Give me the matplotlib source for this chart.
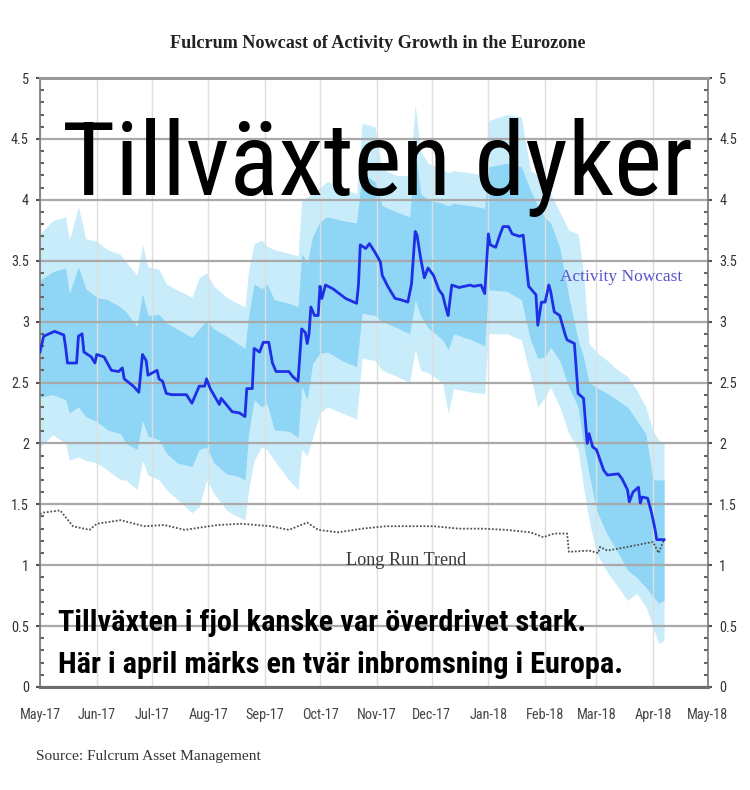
import matplotlib
matplotlib.use('Agg')
import pandas as pd
import matplotlib.pyplot as plt
import matplotlib.dates as mdates
from matplotlib import font_manager as fm
from matplotlib.ft2font import FT2Font
from matplotlib.textpath import TextToPath
from matplotlib.ticker import MultipleLocator, FuncFormatter

# ---- texts ----
title = 'Fulcrum Nowcast of Activity Growth in the Eurozone'
headline = 'Tillväxten dyker'
sub1 = 'Tillväxten i fjol kanske var överdrivet stark.'
sub2 = 'Här i april märks en tvär inbromsning i Europa.'
source = 'Source: Fulcrum Asset Management'
lbl_nowcast = 'Activity Nowcast'
lbl_trend = 'Long Run Trend'

# ---- data ----
nowcast_dates = [
    '2017-05-01', '2017-05-03', '2017-05-09', '2017-05-14', '2017-05-15', '2017-05-16',
    '2017-05-21', '2017-05-22', '2017-05-24', '2017-05-25', '2017-05-29', '2017-05-31',
    '2017-06-01', '2017-06-05', '2017-06-09', '2017-06-13', '2017-06-15', '2017-06-16',
    '2017-06-21', '2017-06-24', '2017-06-26', '2017-06-28', '2017-06-29', '2017-07-04',
    '2017-07-05', '2017-07-07', '2017-07-09', '2017-07-12', '2017-07-20', '2017-07-23',
    '2017-07-27', '2017-07-30', '2017-07-31', '2017-08-02', '2017-08-07', '2017-08-08',
    '2017-08-14', '2017-08-18', '2017-08-21', '2017-08-22', '2017-08-25', '2017-08-26',
    '2017-08-29', '2017-08-31', '2017-09-03', '2017-09-05', '2017-09-07', '2017-09-14',
    '2017-09-16', '2017-09-19', '2017-09-21', '2017-09-23', '2017-09-24', '2017-09-25',
    '2017-09-26', '2017-09-28', '2017-09-30', '2017-10-01', '2017-10-02', '2017-10-04',
    '2017-10-08', '2017-10-15', '2017-10-21', '2017-10-22', '2017-10-23', '2017-10-26',
    '2017-10-28', '2017-10-31', '2017-11-03', '2017-11-04', '2017-11-07', '2017-11-11',
    '2017-11-14', '2017-11-18', '2017-11-20', '2017-11-22', '2017-11-23', '2017-11-25',
    '2017-11-27', '2017-11-29', '2017-12-02', '2017-12-05', '2017-12-07', '2017-12-09',
    '2017-12-10', '2017-12-12', '2017-12-16', '2017-12-22', '2017-12-24', '2017-12-28',
    '2017-12-30', '2018-01-01', '2018-01-02', '2018-01-05', '2018-01-07', '2018-01-09',
    '2018-01-12', '2018-01-14', '2018-01-18', '2018-01-20', '2018-01-23', '2018-01-27',
    '2018-01-28', '2018-01-30', '2018-02-01', '2018-02-03', '2018-02-04', '2018-02-06',
    '2018-02-09', '2018-02-12', '2018-02-13', '2018-02-17', '2018-02-19', '2018-02-22',
    '2018-02-24', '2018-02-25', '2018-02-27', '2018-03-01', '2018-03-05', '2018-03-07',
    '2018-03-13', '2018-03-15', '2018-03-18', '2018-03-19', '2018-03-21', '2018-03-24',
    '2018-03-25', '2018-03-26', '2018-03-29', '2018-03-31', '2018-04-02', '2018-04-03',
    '2018-04-07']
nowcast_vals = [
    2.75, 2.88, 2.92, 2.89, 2.79, 2.66,
    2.66, 2.88, 2.90, 2.75, 2.71, 2.66,
    2.73, 2.71, 2.60, 2.59, 2.62, 2.53,
    2.47, 2.42, 2.73, 2.68, 2.56, 2.60,
    2.53, 2.51, 2.41, 2.40, 2.40, 2.33,
    2.47, 2.47, 2.53, 2.45, 2.32, 2.37,
    2.26, 2.25, 2.22, 2.45, 2.45, 2.78,
    2.75, 2.83, 2.83, 2.66, 2.59, 2.59,
    2.55, 2.51, 2.94, 2.91, 2.82, 2.90,
    3.12, 3.05, 3.05, 3.29, 3.19, 3.30,
    3.27, 3.19, 3.15, 3.30, 3.63, 3.60,
    3.64, 3.57, 3.49, 3.38, 3.29, 3.19,
    3.18, 3.16, 3.31, 3.74, 3.71, 3.52,
    3.36, 3.44, 3.38, 3.26, 3.22, 3.10,
    3.05, 3.30, 3.28, 3.30, 3.29, 3.30,
    3.23, 3.72, 3.63, 3.61, 3.70, 3.78,
    3.78, 3.72, 3.70, 3.71, 3.29, 3.22,
    2.97, 3.16, 3.16, 3.30, 3.25, 3.08,
    3.05, 2.89, 2.85, 2.82, 2.41, 2.37,
    2.00, 2.08, 1.97, 1.95, 1.78, 1.74,
    1.75, 1.71, 1.62, 1.52, 1.60, 1.64,
    1.51, 1.56, 1.55, 1.44, 1.30, 1.21,
    1.21]

trend_dates = [
    '2017-05-01', '2017-05-02', '2017-05-12', '2017-05-19', '2017-05-28', '2017-06-01',
    '2017-06-14', '2017-06-27', '2017-07-08', '2017-07-19', '2017-08-06', '2017-08-19',
    '2017-09-04', '2017-09-14', '2017-09-24', '2017-09-30', '2017-10-11', '2017-10-24',
    '2017-11-06', '2017-11-19', '2017-12-02', '2017-12-16', '2017-12-29', '2018-01-11',
    '2018-01-24', '2018-01-31', '2018-02-06', '2018-02-13', '2018-02-14', '2018-02-25',
    '2018-03-02', '2018-03-03', '2018-03-07', '2018-03-18', '2018-03-28', '2018-04-01',
    '2018-04-04', '2018-04-07']
trend_vals = [
    1.42, 1.43, 1.45, 1.32, 1.29, 1.34,
    1.37, 1.32, 1.33, 1.29, 1.33, 1.34,
    1.32, 1.29, 1.35, 1.29, 1.27, 1.30,
    1.32, 1.32, 1.32, 1.30, 1.30, 1.29,
    1.27, 1.23, 1.26, 1.26, 1.11, 1.12,
    1.10, 1.15, 1.12, 1.15, 1.18, 1.19,
    1.10, 1.21]

band_dates = [
    '2017-05-01', '2017-05-08', '2017-05-15', '2017-05-17', '2017-05-22', '2017-05-26',
    '2017-06-01', '2017-06-07', '2017-06-14', '2017-06-17', '2017-06-23', '2017-06-26',
    '2017-06-29', '2017-07-05', '2017-07-09', '2017-07-15', '2017-07-23', '2017-07-27',
    '2017-07-31', '2017-08-04', '2017-08-11', '2017-08-17', '2017-08-21', '2017-08-23',
    '2017-08-26', '2017-08-30', '2017-09-02', '2017-09-06', '2017-09-14', '2017-09-19',
    '2017-09-21', '2017-09-24', '2017-09-27', '2017-10-01', '2017-10-05', '2017-10-13',
    '2017-10-21', '2017-10-24', '2017-10-31', '2017-11-04', '2017-11-12', '2017-11-19',
    '2017-11-22', '2017-11-25', '2017-11-29', '2017-12-07', '2017-12-10', '2017-12-13',
    '2017-12-23', '2017-12-30', '2018-01-01', '2018-01-11', '2018-01-19', '2018-01-24',
    '2018-01-28', '2018-02-01', '2018-02-04', '2018-02-09', '2018-02-14', '2018-02-19',
    '2018-02-22', '2018-02-25', '2018-03-01', '2018-03-07', '2018-03-13', '2018-03-18',
    '2018-03-23', '2018-03-28', '2018-04-01', '2018-04-04', '2018-04-07']
outer_lo = [
    1.97, 2.07, 2.00, 1.86, 1.89, 1.86, 1.84, 1.78, 1.70, 1.70, 1.62, 1.86,
    1.74, 1.70, 1.62, 1.54, 1.43, 1.48, 1.70, 1.59, 1.45, 1.40, 1.37, 1.62,
    1.86, 1.97, 1.95, 1.86, 1.70, 1.62, 1.95, 1.90, 2.05, 2.25, 2.30, 2.25,
    2.20, 2.70, 2.68, 2.60, 2.55, 2.50, 2.77, 2.60, 2.58, 2.50, 2.25, 2.45,
    2.42, 2.41, 2.90, 2.90, 2.85, 2.55, 2.30, 2.38, 2.46, 2.30, 2.08, 1.95,
    1.64, 1.37, 1.10, 0.94, 0.82, 0.71, 0.77, 0.66, 0.49, 0.36, 0.38]
inner_lo = [
    2.38, 2.40, 2.36, 2.25, 2.30, 2.22, 2.18, 2.11, 2.08, 2.00, 1.95, 2.19,
    2.06, 2.03, 1.92, 1.84, 1.81, 1.95, 1.97, 1.84, 1.75, 1.73, 1.70, 2.08,
    2.36, 2.30, 2.33, 2.11, 2.10, 2.05, 2.47, 2.36, 2.66, 2.74, 2.75, 2.68,
    2.63, 3.07, 3.05, 3.00, 2.95, 2.90, 3.18, 3.05, 2.95, 2.85, 2.77, 2.90,
    2.85, 2.80, 3.26, 3.25, 3.18, 2.85, 2.70, 2.71, 2.79, 2.68, 2.46, 2.30,
    2.00, 1.75, 1.45, 1.25, 1.10, 0.96, 0.90, 0.82, 0.74, 0.69, 0.71]
inner_hi = [
    3.34, 3.41, 3.44, 3.23, 3.45, 3.27, 3.20, 3.18, 3.12, 3.08, 2.96, 3.23,
    3.05, 3.06, 2.99, 2.94, 2.87, 2.94, 3.01, 2.94, 2.88, 2.82, 2.78, 3.05,
    3.31, 3.27, 3.31, 3.18, 3.15, 3.12, 3.56, 3.48, 3.70, 3.82, 3.86, 3.83,
    3.81, 4.22, 4.15, 3.95, 3.90, 3.86, 4.41, 4.05, 4.00, 3.97, 3.95, 3.97,
    3.95, 3.93, 4.27, 4.30, 4.27, 4.08, 3.95, 3.85, 3.81, 3.61, 3.20, 2.85,
    2.71, 2.50, 2.46, 2.41, 2.35, 2.30, 2.19, 2.08, 1.70, 1.70, 1.70]
outer_hi = [
    3.72, 3.83, 3.86, 3.67, 3.94, 3.68, 3.66, 3.59, 3.55, 3.49, 3.38, 3.63,
    3.45, 3.43, 3.31, 3.26, 3.20, 3.36, 3.40, 3.29, 3.20, 3.15, 3.12, 3.42,
    3.64, 3.67, 3.62, 3.59, 3.56, 3.54, 4.00, 4.02, 4.05, 4.10, 4.15, 4.10,
    4.05, 4.63, 4.60, 4.25, 4.20, 4.20, 4.78, 4.40, 4.30, 4.25, 4.22, 4.24,
    4.22, 4.20, 4.65, 4.70, 4.68, 4.24, 4.20, 4.10, 4.05, 3.90, 3.75, 3.72,
    3.40, 2.82, 2.75, 2.68, 2.60, 2.55, 2.44, 2.30, 2.10, 2.03, 2.00]

y_ticks = [0, 0.5, 1, 1.5, 2, 2.5, 3, 3.5, 4, 4.5, 5]
x_start, x_end = '2017-05-01', '2018-05-01'

W, H, DPI = 750, 790, 100
t2p = TextToPath()


def text_width(s, prop):
    # width in points for the size set on prop
    return t2p.get_text_width_height_descent(s, prop, ismath=False)[0]


def fit_size(s, prop, width_px):
    p = prop.copy()
    p.set_size(100)
    return 100 * width_px / (text_width(s, p) * DPI / 72)


def as_int_weight(w):
    return fm.weight_dict.get(w, 400) if isinstance(w, str) else w


def narrowest_sans(sample, weight=400):
    # the picture has squeezed lettering, so take the narrowest sans we have
    bases = ('DejaVu Sans', 'Liberation Sans', 'Noto Sans', 'Roboto',
             'Open Sans', 'Lato', 'Inter')
    need = set(ord(c) for c in sample if c != ' ')
    best, best_w = None, None
    for f in fm.fontManager.ttflist:
        if f.style != 'normal' or as_int_weight(f.weight) != weight:
            continue
        base = next((b for b in bases if f.name.startswith(b)), None)
        if base is None:
            continue
        rest = f.name[len(base):].lower().strip()
        if rest and not ('cond' in rest or 'narrow' in rest):
            continue
        try:
            cmap = FT2Font(f.fname).get_charmap()
            if not need.issubset(cmap):
                continue
            w = text_width(sample, fm.FontProperties(fname=f.fname, size=100))
        except Exception:
            continue
        if best_w is None or w < best_w:
            best, best_w = f, w
    return best


def heavier_of(entry, target=600):
    # same family and stretch, heavier weight (closest to target)
    best = None
    for f in fm.fontManager.ttflist:
        if f.name != entry.name or f.style != 'normal' or f.stretch != entry.stretch:
            continue
        w8 = as_int_weight(f.weight)
        if w8 <= 400:
            continue
        if best is None or abs(w8 - target) < abs(as_int_weight(best.weight) - target):
            best = f
    return best


def px(x, y):
    return x / W, 1 - y / H


narrow = narrowest_sans(headline + sub1 + sub2 + 'May-17')
if narrow is None:
    sans = fm.FontProperties(family='DejaVu Sans')
    sans_b = fm.FontProperties(family='DejaVu Sans', weight='semibold')
else:
    sans = fm.FontProperties(fname=narrow.fname)
    heavy = heavier_of(narrow)
    sans_b = fm.FontProperties(fname=heavy.fname) if heavy else sans
serif = fm.FontProperties(family=['Liberation Serif', 'DejaVu Serif'])
serif_b = fm.FontProperties(family=['Liberation Serif', 'DejaVu Serif'], weight='bold')

fig = plt.figure(figsize=(W / DPI, H / DPI), dpi=DPI)
ax = fig.add_axes([40 / W, 1 - 687 / H, 668 / W, (687 - 78) / H])

bd = pd.to_datetime(band_dates)
ax.fill_between(bd, outer_lo, outer_hi, color='#c9ecfb', lw=0, zorder=1)
ax.fill_between(bd, inner_lo, inner_hi, color='#8fd5f5', lw=0, zorder=1.1)
ax.plot(pd.to_datetime(trend_dates), trend_vals, color='#505050', lw=1.3,
        ls=(0, (1, 1)), zorder=2)
ax.plot(pd.to_datetime(nowcast_dates), nowcast_vals, color='#1f2fe6', lw=2.0, zorder=3)

ax.set_xlim(pd.Timestamp(x_start), pd.Timestamp(x_end))
ax.set_ylim(0, 5)
ax.set_yticks(y_ticks)
ax.yaxis.set_major_formatter(FuncFormatter(lambda v, p: f'{v:g}'))
ax.yaxis.set_minor_locator(MultipleLocator(0.1))
ax.xaxis.set_major_locator(mdates.MonthLocator())
ax.xaxis.set_major_formatter(mdates.DateFormatter('%b-%y'))

ax.set_axisbelow('line')
ax.yaxis.grid(True, color='#a9a9a9', lw=1.6)
ax.xaxis.grid(True, color='#dedede', lw=1.0)

tick_size = fit_size('May-17', sans, 41)
ax.tick_params(axis='x', length=0, pad=15, labelsize=tick_size, labelcolor='#444444')
ax.tick_params(axis='y', which='major', direction='out', length=3, width=1.5,
               color='#555555', left=True, right=True, labelright=True,
               pad=5, labelsize=tick_size, labelcolor='#333333')
ax.tick_params(axis='y', which='minor', direction='in', length=3, width=1.5,
               color='#666666', left=True, right=True)
for lab in ax.get_xticklabels() + ax.get_yticklabels():
    lab.set_fontproperties(sans)
    lab.set_fontsize(tick_size)

for side in ('left', 'right'):
    ax.spines[side].set_color('#777777')
    ax.spines[side].set_linewidth(1.2)
ax.spines['top'].set_color('#9a9a9a')
ax.spines['top'].set_linewidth(2.2)
ax.spines['bottom'].set_color('#6e6e6e')
ax.spines['bottom'].set_linewidth(2.2)

# series labels
ax.text(pd.Timestamp('2018-02-09'), 3.33, lbl_nowcast, fontproperties=serif,
        fontsize=fit_size(lbl_nowcast, serif, 122), color='#5a52cc', va='baseline')
ax.text(pd.Timestamp('2017-10-15'), 1.00, lbl_trend, fontproperties=serif,
        fontsize=fit_size(lbl_trend, serif, 121), color='#3a3a3a', va='baseline')

# figure texts
fig.text(*px(378, 48), title, fontproperties=serif_b, ha='center', va='baseline',
         fontsize=fit_size(title, serif_b, 413), color='#222222')
fig.text(*px(36, 760), source, fontproperties=serif, va='baseline',
         fontsize=fit_size(source, serif, 224), color='#333333')
fig.text(*px(62, 195), headline, fontproperties=sans, va='baseline',
         fontsize=fit_size(headline, sans, 631), color='black')
sub_size = fit_size(sub1, sans_b, 527)
fig.text(*px(58, 631), sub1, fontproperties=sans_b, va='baseline',
         fontsize=sub_size, color='black')
fig.text(*px(58, 673), sub2, fontproperties=sans_b, va='baseline',
         fontsize=sub_size, color='black')

fig.savefig('out.png', dpi=DPI)
